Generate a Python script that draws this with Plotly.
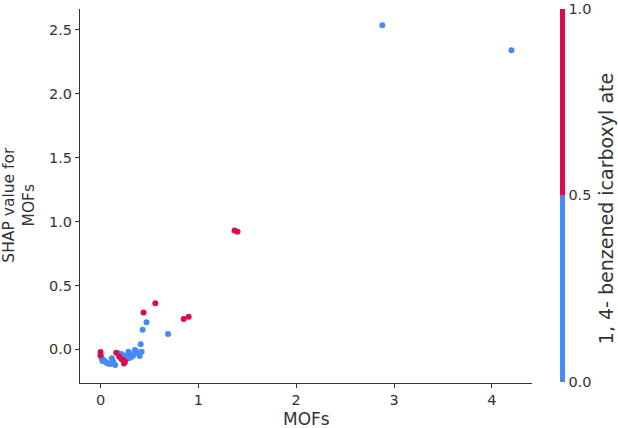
import plotly.graph_objects as go

# Feature value (MOFs), SHAP value, and colour feature value (0/1)
mofs = [2.88, 4.20, 0.00, 0.01, 0.03, 0.05, 0.08, 0.115, 0.13, 0.15, 0.18, 0.215,
        0.27, 0.285, 0.30, 0.32, 0.335, 0.35, 0.40, 0.42, 0.41, 0.36, 0.43, 0.47,
        0.69, 0.02, 0.10, 0.06, 0.25, 0.29, 0.38,
        0.00, 0.00, 0.16, 0.19, 0.215, 0.23, 0.25, 0.24, 0.44, 0.56, 0.85, 0.90,
        1.37, 1.40]
shap_vals = [2.536, 2.34, -0.05, -0.07, -0.084, -0.097, -0.11, -0.07, -0.097, -0.123,
             -0.03, -0.037, -0.045, -0.018, -0.037, -0.058, -0.045, -0.005, -0.052,
             -0.018, 0.041, -0.01, 0.153, 0.213, 0.12, -0.09, -0.115, -0.105, -0.06,
             -0.07, -0.03,
             -0.02, -0.045, -0.026, -0.058, -0.078, -0.084, -0.097, -0.11, 0.289,
             0.36, 0.237, 0.255, 0.93, 0.92]
color_feat = [0] * 31 + [1] * 14

BLUE = "#448bf6"
RED = "#dc0b50"
TXT = "#333333"

fig = go.Figure()
fig.add_trace(go.Scatter(
    x=mofs, y=shap_vals, mode="markers",
    marker=dict(
        size=6, color=color_feat, cmin=0, cmax=1,
        colorscale=[[0, BLUE], [0.5, BLUE], [0.5, RED], [1, RED]],
        line=dict(width=0),
        colorbar=dict(
            x=1.062, xanchor="left", xpad=0, ypad=0, y=0.502, yanchor="middle",
            len=0.998, lenmode="fraction", thickness=5, outlinewidth=0,
            tickvals=[0, 0.5, 1], ticktext=["0.0", "0.5", "1.0"],
            ticks="", tickfont=dict(size=14.5, color=TXT, family="DejaVu Sans"),
        ),
    ),
    showlegend=False, hoverinfo="skip",
))

fig.update_layout(
    width=618, height=428,
    margin=dict(l=80, r=86, t=9, b=45),
    paper_bgcolor="white", plot_bgcolor="white",
    font=dict(family="DejaVu Sans", color=TXT, size=14),
    xaxis=dict(range=[-0.21, 4.41], tickvals=[0, 1, 2, 3, 4],
               showgrid=False, zeroline=False, showline=True, linecolor=TXT,
               linewidth=1, ticks="outside", ticklen=4, tickcolor=TXT,
               tickfont=dict(size=14.5, color=TXT)),
    yaxis=dict(range=[-0.263, 2.663], tickvals=[0, 0.5, 1.0, 1.5, 2.0, 2.5],
               ticktext=["0.0", "0.5", "1.0", "1.5", "2.0", "2.5"],
               showgrid=False, zeroline=False, showline=True, linecolor=TXT,
               linewidth=1, ticks="outside", ticklen=4, tickcolor=TXT,
               tickfont=dict(size=14.5, color=TXT)),
    annotations=[
        dict(text="MOFs", xref="paper", yref="paper", x=0.5, y=-0.096,
             xanchor="center", yanchor="middle", showarrow=False,
             font=dict(size=17, color=TXT)),
        dict(text="SHAP value for<br>MOFs", xref="paper", yref="paper",
             x=(19.5 - 80) / 452, y=(383 - 204) / 374.3, xanchor="center",
             yanchor="middle", textangle=-90, showarrow=False,
             font=dict(size=15.5, color=TXT)),
        dict(text="1, 4- benzened icarboxyl ate", xref="paper", yref="paper",
             x=(605.5 - 80) / 452, y=(383 - 208.5) / 374.3, xanchor="center",
             yanchor="middle", textangle=-90, showarrow=False,
             font=dict(size=19, color=TXT)),
    ],
)

fig.write_html("out.html")
